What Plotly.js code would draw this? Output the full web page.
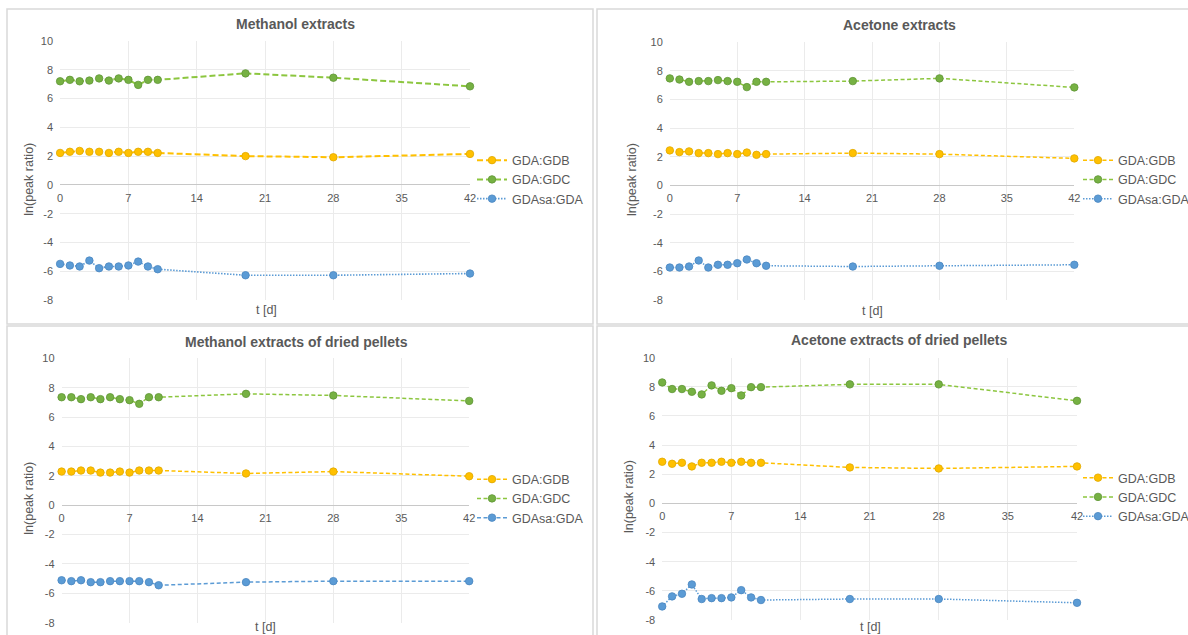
<!DOCTYPE html>
<html>
<head>
<meta charset="utf-8">
<script src="https://cdn.plot.ly/plotly-3.0.1.min.js"></script>
<style>html,body{margin:0;padding:0;background:#fff;}#chart{width:1188px;height:635px;}</style>
</head>
<body>
<div id="chart"></div>
<script>
// ---- data ----
var days = [0, 1, 2, 3, 4, 5, 6, 7, 8, 9, 10, 19, 28, 42];
var seriesNames = ["GDA:GDB", "GDA:GDC", "GDAsa:GDA"];
var panelTitles = ["Methanol extracts", "Acetone extracts", "Methanol extracts of dried pellets", "Acetone extracts of dried pellets"];
var xTitle = "t [d]";
var yTitle = "ln(peak ratio)";
var xTicks = [0, 7, 14, 21, 28, 35, 42];
var yTicks = [-8, -6, -4, -2, 0, 2, 4, 6, 8, 10];

var meth_gdb   = [2.22, 2.30, 2.36, 2.30, 2.30, 2.22, 2.30, 2.22, 2.30, 2.30, 2.22, 2.00, 1.92, 2.15];
var meth_gdc   = [7.20, 7.30, 7.20, 7.25, 7.40, 7.25, 7.40, 7.30, 6.95, 7.30, 7.30, 7.75, 7.45, 6.85];
var meth_gdasa = [-5.49, -5.60, -5.67, -5.26, -5.79, -5.67, -5.67, -5.60, -5.33, -5.67, -5.86, -6.28, -6.28, -6.16];

var ace_gdb   = [2.45, 2.33, 2.38, 2.26, 2.26, 2.19, 2.26, 2.19, 2.30, 2.14, 2.19, 2.26, 2.19, 1.89];
var ace_gdc   = [7.48, 7.40, 7.24, 7.29, 7.29, 7.36, 7.29, 7.24, 6.87, 7.24, 7.24, 7.29, 7.48, 6.85];
var ace_gdasa = [-5.73, -5.73, -5.66, -5.24, -5.73, -5.54, -5.54, -5.43, -5.17, -5.43, -5.61, -5.66, -5.61, -5.54];

var dmeth_gdb   = [2.29, 2.29, 2.36, 2.36, 2.22, 2.22, 2.29, 2.22, 2.36, 2.36, 2.36, 2.16, 2.29, 1.97];
var dmeth_gdc   = [7.35, 7.35, 7.22, 7.35, 7.22, 7.35, 7.22, 7.15, 6.90, 7.35, 7.35, 7.58, 7.47, 7.10];
var dmeth_gdasa = [-5.11, -5.17, -5.11, -5.24, -5.24, -5.17, -5.17, -5.17, -5.17, -5.24, -5.45, -5.24, -5.17, -5.17];

var dace_gdb   = [2.86, 2.72, 2.79, 2.54, 2.79, 2.79, 2.86, 2.79, 2.86, 2.79, 2.79, 2.47, 2.40, 2.54];
var dace_gdc   = [8.30, 7.85, 7.85, 7.66, 7.48, 8.10, 7.73, 7.91, 7.41, 7.98, 7.98, 8.17, 8.17, 7.04];
var dace_gdasa = [-7.07, -6.38, -6.20, -5.56, -6.56, -6.50, -6.50, -6.45, -5.95, -6.45, -6.63, -6.56, -6.56, -6.82];

// ---- layout helpers ----
var W = 1188, H = 635;
function px(x) { return x / W; }
function py(y) { return 1 - y / H; }

var FONT = "Liberation Sans, Arial, Helvetica, sans-serif";
var TXT = "#595959";
var colors = {
  gdb:  {line: "#FFC000", fill: "#FFC000", edge: "#E0A800"},
  gdc:  {line: "#8CC63F", fill: "#76B143", edge: "#5F9636"},
  gdasa:{line: "#5B9BD5", fill: "#5B9BD5", edge: "#4A86C0"}
};
var DASH_L = "6px,3px", DASH_S = "4px,2.5px", DOT = "1.5px,1.5px";

// panel geometry in pixels
var panels = [
  {data: [meth_gdb, meth_gdc, meth_gdasa],  x0: 60.1,  x1: 470.0,  yTop: 41.0,  yBot: 300.0, dashes: [DASH_L, DASH_L, DOT],  lw: [2.0, 2.0, 1.6],
   title: [295, 24], ytl: [28.7, 179], xtl: [266, 310], leg: [472, 179.5], box: [7, 9, 593, 324]},
  {data: [ace_gdb, ace_gdc, ace_gdasa],     x0: 669.8, x1: 1074.3, yTop: 42.3,  yBot: 300.0, dashes: [DASH_S, DASH_S, DOT],  lw: [1.5, 1.5, 1.5],
   title: [899, 25.5], ytl: [632, 180], xtl: [872, 311], leg: [1078, 179.5], box: [597, 9, 1200, 324]},
  {data: [dmeth_gdb, dmeth_gdc, dmeth_gdasa], x0: 61.6, x1: 469.2,  yTop: 358.3, yBot: 622.7, dashes: [DASH_S, DASH_S, DASH_S], lw: [1.5, 1.5, 1.5],
   title: [296, 341.5], ytl: [28.7, 498], xtl: [265, 627], leg: [472, 498.5], box: [7, 326, 593, 660]},
  {data: [dace_gdb, dace_gdc, dace_gdasa],  x0: 662.2, x1: 1077.0, yTop: 357.7, yBot: 620.0, dashes: [DASH_S, DASH_S, DOT],  lw: [1.5, 1.5, 1.5],
   title: [899, 340], ytl: [629, 496], xtl: [870, 627], leg: [1078, 497], box: [597, 326, 1200, 660]}
];

var traces = [];
var layout = {
  width: W, height: H,
  margin: {l: 0, r: 0, t: 0, b: 0, pad: 0, autoexpand: false},
  paper_bgcolor: "#ffffff", plot_bgcolor: "#ffffff",
  font: {family: FONT, color: TXT},
  showlegend: true,
  annotations: [], shapes: []
};

var keys = ["gdb", "gdc", "gdasa"];
panels.forEach(function (p, i) {
  var n = i + 1;
  var xa = "x" + (n === 1 ? "" : n), ya = "y" + (n === 1 ? "" : n);
  var xName = "xaxis" + (n === 1 ? "" : n), yName = "yaxis" + (n === 1 ? "" : n);
  var legName = "legend" + (n === 1 ? "" : n);
  var yd = [py(p.yBot), py(p.yTop)];
  var zeroPos = yd[0] + (0 - (-8)) / 18 * (yd[1] - yd[0]);

  p.data.forEach(function (vals, k) {
    var c = colors[keys[k]];
    traces.push({
      type: "scatter", mode: "lines+markers",
      x: days, y: vals, name: seriesNames[k],
      xaxis: xa, yaxis: ya, legend: legName,
      line: {color: c.line, width: p.lw[k], dash: p.dashes[k]},
      marker: {color: c.fill, size: 7.5, line: {color: c.edge, width: 0.8}},
      cliponaxis: false, hoverinfo: "x+y+name"
    });
  });

  layout[xName] = {
    domain: [px(p.x0), px(p.x1)], range: [0, 42],
    tickmode: "array", tickvals: xTicks, ticktext: xTicks.map(String),
    anchor: "free", position: zeroPos,
    showgrid: true, gridcolor: "#ebebeb", gridwidth: 1,
    zeroline: false, showline: false, ticks: "",
    ticklabelstandoff: 5,
    tickfont: {family: FONT, size: 11, color: TXT}, fixedrange: true
  };
  layout[yName] = {
    domain: yd, range: [-8, 10], anchor: xa,
    tickmode: "array", tickvals: yTicks, ticktext: yTicks.map(String),
    showgrid: true, gridcolor: "#ebebeb", gridwidth: 1,
    zeroline: true, zerolinecolor: "#c8c8c8", zerolinewidth: 1.2,
    showline: false, ticks: "", ticklabelstandoff: 6,
    tickfont: {family: FONT, size: 11, color: TXT}, fixedrange: true
  };
  layout[legName] = {
    x: px(p.leg[0]), xanchor: "left", y: py(p.leg[1]), yanchor: "middle",
    xref: "paper", yref: "paper",
    bgcolor: "rgba(0,0,0,0)", borderwidth: 0,
    font: {family: FONT, size: 12.5, color: TXT},
    itemwidth: 30, traceorder: "normal"
  };

  layout.annotations.push(
    {text: "<b>" + panelTitles[i] + "</b>", x: px(p.title[0]), y: py(p.title[1]), xref: "paper", yref: "paper",
     xanchor: "center", yanchor: "middle", showarrow: false, font: {family: FONT, size: 14, color: TXT}},
    {text: yTitle, x: px(p.ytl[0]), y: py(p.ytl[1]), xref: "paper", yref: "paper", textangle: -90,
     xanchor: "center", yanchor: "middle", showarrow: false, font: {family: FONT, size: 12.5, color: TXT}},
    {text: xTitle, x: px(p.xtl[0]), y: py(p.xtl[1]), xref: "paper", yref: "paper",
     xanchor: "center", yanchor: "middle", showarrow: false, font: {family: FONT, size: 12.5, color: TXT}}
  );
  layout.shapes.push({
    type: "rect", xref: "paper", yref: "paper", layer: "below",
    x0: px(p.box[0]), x1: px(p.box[2]), y0: py(p.box[3]), y1: py(p.box[1]),
    line: {color: "#d9d9d9", width: 1.5}, fillcolor: "rgba(0,0,0,0)"
  });
});

Plotly.newPlot("chart", traces, layout, {staticPlot: true, displayModeBar: false});
</script>
</body>
</html>
